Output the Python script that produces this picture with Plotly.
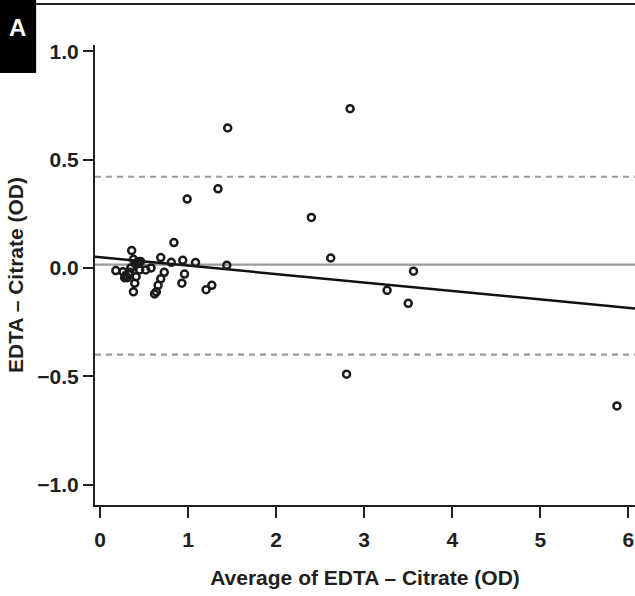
import plotly.graph_objects as go

# Data
avg_od = [1.45, 2.84, 0.99, 1.34, 2.40, 2.62, 3.56, 3.26, 3.50, 2.80, 5.87, 1.44,
          0.36, 0.84, 0.69, 0.81, 0.94, 1.085, 0.18, 0.26, 0.29, 0.31, 0.33, 0.28,
          0.38, 0.43, 0.45, 0.52, 0.58, 0.41, 0.395, 0.38, 0.73, 0.69, 0.66, 0.64,
          0.62, 0.96, 0.93, 1.27, 1.205, 0.35, 0.40, 0.46, 0.34, 0.44]
diff_od = [0.646, 0.735, 0.318, 0.365, 0.233, 0.046, -0.015, -0.103, -0.163, -0.49, -0.637, 0.012,
           0.080, 0.117, 0.048, 0.026, 0.035, 0.025, -0.012, -0.017, -0.035, -0.045, -0.03, -0.045,
           0.040, 0.029, -0.009, -0.009, 0.0, -0.04, -0.07, -0.11, -0.02, -0.05, -0.08, -0.11,
           -0.12, -0.028, -0.07, -0.08, -0.10, 0.0, 0.02, 0.03, -0.02, 0.02]

mean_diff = 0.015
upper_loa = 0.421
lower_loa = -0.400
reg_intercept = 0.05
reg_slope = -0.039

x_ticks = [0, 1, 2, 3, 4, 5, 6]
x_ticklabels = ["0", "1", "2", "3", "4", "5", "6"]
y_ticks = [-1.0, -0.5, 0.0, 0.5, 1.0]
y_ticklabels = ["\u22121.0", "\u22120.5", "0.0", "0.5", "1.0"]

XR = [-0.0565, 6.075]
YR = [-1.094, 1.029]

reg_x = [XR[0], XR[1]]
reg_y = [reg_intercept + reg_slope * x for x in reg_x]

FAM = "Liberation Sans, Arial, sans-serif"
INK = "#231f20"
font = dict(family=FAM, size=21, color=INK)


def b(s):
    return "<b>" + s + "</b>"


fig = go.Figure()
gray = "#9a9a9a"
for yv, dash in [(mean_diff, "solid"), (upper_loa, "6px,5px"), (lower_loa, "6px,5px")]:
    fig.add_trace(go.Scatter(x=[XR[0], XR[1]], y=[yv, yv], mode="lines",
                             line=dict(color=gray, width=2.2, dash=dash),
                             hoverinfo="skip", showlegend=False))
fig.add_trace(go.Scatter(x=reg_x, y=reg_y, mode="lines",
                         line=dict(color="#111111", width=2.5), showlegend=False))
fig.add_trace(go.Scatter(x=avg_od, y=diff_od, mode="markers", cliponaxis=False,
                         marker=dict(symbol="circle-open", size=7, color="#1a1a1a",
                                     line=dict(width=2.5, color="#1a1a1a")),
                         showlegend=False))

fig.update_layout(
    width=635, height=596,
    margin=dict(l=95, r=0, t=45, b=91),
    paper_bgcolor="white", plot_bgcolor="white",
    font=font,
    xaxis=dict(range=XR, tickvals=x_ticks, ticktext=[b(t) for t in x_ticklabels],
               showgrid=False, zeroline=False, automargin=False,
               showline=True, linecolor=INK, linewidth=2.2,
               ticks="outside", ticklen=11, tickwidth=2.2, tickcolor=INK,
               tickfont=font, ticklabelstandoff=4, ticklabeloverflow="allow",
               title=dict(text=b("Average of EDTA \u2013 Citrate (OD)"), font=font, standoff=20)),
    yaxis=dict(range=YR, tickvals=y_ticks, ticktext=[b(t) for t in y_ticklabels],
               showgrid=False, zeroline=False, automargin=False,
               showline=True, linecolor=INK, linewidth=2.2,
               ticks="outside", ticklen=10, tickwidth=2.2, tickcolor=INK,
               tickfont=font, ticklabelstandoff=0,
               title=dict(text=b("EDTA \u2013 Citrate (OD)"), font=font, standoff=8)),
    shapes=[
        dict(type="rect", xref="paper", yref="paper", x0=-0.18, x1=-0.109, y0=0.939, y1=1.1,
             fillcolor="black", line=dict(width=0), layer="above"),
        dict(type="line", xref="paper", yref="paper", x0=-0.109, x1=1.0, y0=1.089, y1=1.089,
             line=dict(color=INK, width=2), layer="above"),
    ],
    annotations=[
        dict(text=b("A"), xref="paper", yref="paper", x=-0.143, y=1.038, showarrow=False,
             font=dict(family=FAM, size=24, color="white"),
             xanchor="center", yanchor="middle"),
    ],
)

fig.write_html("out.html", config={"displayModeBar": False},
               post_script="document.body.style.margin='0';document.body.style.overflow='hidden';")
